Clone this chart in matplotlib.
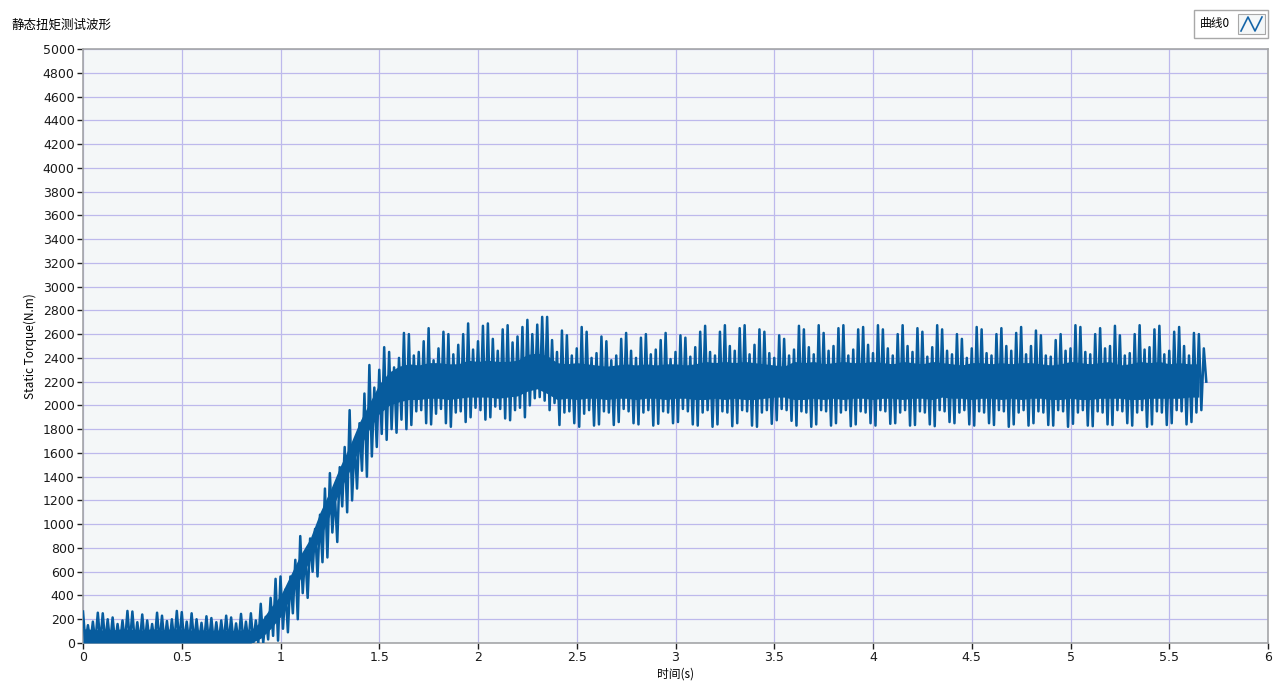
import matplotlib
matplotlib.use('Agg')
import matplotlib.pyplot as plt
from matplotlib.patches import Rectangle
from matplotlib.lines import Line2D
import numpy as np

plt.rcParams['font.family'] = ['Noto Sans CJK SC', 'DejaVu Sans']

# sample times (s): spikes every 0.025 s, core band every 0.05 s
t_fine = np.round(np.arange(0, 5.7, 0.025), 3)
t_win = np.round(np.arange(0, 5.7, 0.05), 2)

# spike tops (N.m)
peak_hi = [
    # 0 - 0.85 s
    265, 150, 180, 255, 250, 200, 215, 160, 190, 270, 265, 175, 240, 190, 160, 255, 230, 185, 200, 270,
    260, 180, 250, 200, 170, 225, 210, 175, 190, 230, 215, 165, 245, 180, 250, 190,
    # 0.9 - 1.6 s, rising
    330, 220, 380, 540, 560, 450, 560, 700, 900, 760, 880, 960, 1080, 1300, 1430, 1250, 1480, 1650, 1960, 1700,
    1850, 2100, 2340, 2150, 2300, 2490, 2450, 2320, 2400, 2610,
    # 1.65 - 5.65 s, plateau
    2600, 2420, 2450, 2540, 2650, 2380, 2480, 2620, 2600, 2430, 2510, 2600, 2690, 2470, 2540, 2670, 2690, 2560, 2460, 2640,
    2675, 2530, 2580, 2660, 2720, 2600, 2680, 2745, 2745, 2550, 2450, 2630, 2590, 2420, 2480, 2660, 2620, 2400, 2440, 2580,
    2540, 2380, 2420, 2560, 2610, 2460, 2400, 2570, 2600, 2430, 2470, 2550, 2610, 2390, 2450, 2590, 2570, 2410, 2490, 2620,
    2670, 2450, 2420, 2620, 2675, 2500, 2460, 2650, 2675, 2430, 2510, 2640, 2620, 2440, 2400, 2590, 2560, 2420, 2470, 2670,
    2640, 2490, 2430, 2675, 2610, 2460, 2500, 2650, 2675, 2420, 2470, 2640, 2660, 2510, 2440, 2675, 2640, 2480, 2420, 2600,
    2675, 2500, 2450, 2650, 2620, 2410, 2490, 2675, 2640, 2460, 2430, 2600, 2560, 2400, 2480, 2660, 2640, 2440, 2420, 2600,
    2650, 2500, 2460, 2610, 2660, 2430, 2500, 2630, 2590, 2420, 2410, 2550, 2600, 2460, 2480, 2675, 2660, 2450, 2430, 2600,
    2650, 2480, 2500, 2670, 2590, 2420, 2440, 2600, 2675, 2470, 2490, 2640, 2670, 2430, 2460, 2620, 2660, 2500, 2420, 2610,
    2600, 2480,
]

# spike bottoms
peak_lo = [
    0, 0, 0, 0, 0, 0, 0, 0, 0, 0, 0, 0, 0, 0, 0, 0, 0, 0, 0, 0,
    0, 0, 0, 0, 0, 0, 0, 0, 0, 0, 0, 0, 0, 0, 0, 0,
    0, 30, 60, 20, 120, 90, 250, 200, 420, 380, 600, 560, 680, 720, 930, 850, 1150, 1100, 1200, 1300,
    1450, 1400, 1570, 1650, 1760, 1710, 1800, 1770, 1880, 1800,
    1835, 1950, 1960, 1850, 1840, 1930, 1970, 1850, 1820, 1940, 1950, 1860, 1900, 1980, 1960, 1880, 1900, 1990, 1970, 1890,
    1875, 1960, 1980, 1900, 2000, 2060, 2070, 2040, 1960, 2020, 1835, 1940, 1950, 1850, 1820, 1930, 1960, 1830, 1840, 1950,
    1940, 1835, 1860, 1970, 1950, 1850, 1840, 1940, 1960, 1830, 1845, 1950, 1940, 1850, 1860, 1970, 1950, 1840, 1830, 1940,
    1960, 1820, 1840, 1950, 1940, 1825, 1850, 1960, 1950, 1830, 1820, 1940, 1960, 1845, 1875, 1970, 1960, 1870, 1830, 1950,
    1940, 1820, 1840, 1960, 1950, 1830, 1850, 1940, 1960, 1825, 1840, 1950, 1940, 1850, 1830, 1960, 1950, 1845, 1850, 1940,
    1960, 1830, 1835, 1950, 1940, 1840, 1825, 1960, 1950, 1860, 1850, 1940, 1960, 1840, 1830, 1950, 1940, 1850, 1835, 1960,
    1950, 1820, 1840, 1940, 1960, 1830, 1850, 1950, 1940, 1835, 1830, 1960, 1950, 1820, 1845, 1940, 1960, 1830, 1825, 1950,
    1940, 1840, 1835, 1960, 1950, 1850, 1830, 1940, 1960, 1820, 1840, 1950, 1940, 1835, 1850, 1960, 1950, 1840, 1860, 1940,
    1960, 2200,
]

# dense core of the band
core_lo = [0, 0, 0, 0, 0, 0, 0, 0, 0, 0,
           0, 0, 0, 0, 0, 0, 0, 0, 40, 120,
           220, 380, 540, 700, 880, 1080, 1280, 1450, 1640, 1800,
           1930, 2000, 2030,
           2050, 2050, 2060, 2060, 2050, 2060, 2070, 2070, 2070, 2060,
           2070, 2080, 2120, 2140, 2100, 2050, 2060, 2050, 2060, 2060,
           2050, 2060, 2060, 2050, 2060, 2060, 2050, 2060, 2060, 2050,
           2050, 2060, 2050, 2060, 2050, 2050, 2060, 2070, 2070, 2050,
           2050, 2060, 2050, 2060, 2050, 2060, 2060, 2050, 2060, 2060,
           2050, 2060, 2060, 2050, 2070, 2060, 2060, 2050, 2060, 2060,
           2050, 2060, 2050, 2060, 2060, 2050, 2050, 2060, 2050, 2050,
           2060, 2060, 2060, 2050, 2050, 2060, 2060, 2060, 2060, 2070,
           2070]
core_hi = [120, 115, 110, 110, 120, 115, 110, 120, 110, 120,
           120, 110, 110, 105, 110, 105, 110, 110, 180, 300,
           400, 570, 740, 880, 1100, 1280, 1480, 1660, 1860, 2020,
           2180, 2280, 2330,
           2350, 2340, 2360, 2360, 2350, 2350, 2380, 2370, 2380, 2370,
           2370, 2380, 2430, 2440, 2420, 2360, 2350, 2360, 2350, 2340,
           2330, 2340, 2350, 2340, 2350, 2340, 2350, 2350, 2340, 2350,
           2370, 2360, 2370, 2360, 2370, 2360, 2350, 2340, 2330, 2370,
           2360, 2370, 2350, 2360, 2370, 2360, 2360, 2370, 2360, 2350,
           2370, 2360, 2350, 2370, 2360, 2350, 2340, 2360, 2360, 2350,
           2360, 2350, 2360, 2360, 2350, 2340, 2350, 2370, 2360, 2350,
           2360, 2370, 2340, 2350, 2370, 2360, 2370, 2350, 2360, 2350,
           2350]

x_ticks = [0, 0.5, 1, 1.5, 2, 2.5, 3, 3.5, 4, 4.5, 5, 5.5, 6]
x_labels = ['0', '0.5', '1', '1.5', '2', '2.5', '3', '3.5', '4', '4.5', '5', '5.5', '6']
y_ticks = list(range(0, 5001, 200))

line_col = '#075c9e'

fig = plt.figure(figsize=(12.88, 6.95), dpi=100)
ax = fig.add_axes([83 / 1288, 1 - 643 / 695, 1185 / 1288, 594 / 695])
ax.set_facecolor('#f4f7f8')

# zigzag: spike top at each sample, bottom 0.0125 s later
zx, zy = [], []
for i in range(len(t_fine)):
    zx += [t_fine[i], t_fine[i] + 0.0125]
    zy += [peak_hi[i], peak_lo[i]]

ax.fill_between(t_win, core_lo, core_hi, color=line_col, lw=0, zorder=3)
ax.plot(zx, zy, color=line_col, lw=1.8, zorder=4)

ax.set_xlim(0, 6)
ax.set_ylim(0, 5000)
ax.set_xticks(x_ticks)
ax.set_xticklabels(x_labels)
ax.set_yticks(y_ticks)
ax.grid(True, color='#bdb9ec', lw=0.9, zorder=0)
ax.set_axisbelow(True)
ax.tick_params(direction='out', length=4, width=1, color='#202020',
               labelsize=9, pad=2, labelcolor='#1a1a1a')
for lab in ax.get_xticklabels() + ax.get_yticklabels():
    lab.set_family('DejaVu Sans')
for s in ax.spines.values():
    s.set_color('#a4a6a8')
    s.set_linewidth(1.2)

ax.set_ylabel('Static Torque(N.m)', fontsize=8.5, labelpad=4)
ax.set_xlabel('时间(s)', fontsize=8.5, labelpad=2)

fig.text(12 / 1288, 1 - 25 / 695, '静态扭矩测试波形', fontsize=9, va='center', ha='left')

# legend box in the top right
fig.patches.append(Rectangle((1194 / 1288, 1 - 38 / 695), 74 / 1288, 28 / 695,
                             transform=fig.transFigure, fill=False,
                             ec='#a8a8a8', lw=1))
fig.text(1200 / 1288, 1 - 24 / 695, '曲线0', fontsize=8.5, va='center', ha='left')
fig.patches.append(Rectangle((1238 / 1288, 1 - 34 / 695), 27 / 1288, 20 / 695,
                             transform=fig.transFigure, fc='#f4f7f8',
                             ec='#a8a8a8', lw=0.8))
lx = [1241, 1248, 1255, 1262]
ly = [31, 17, 31, 17]
fig.lines.append(Line2D([v / 1288 for v in lx], [1 - v / 695 for v in ly],
                        transform=fig.transFigure, color='#1565a8', lw=1.2))

fig.savefig('out.png', dpi=100)
